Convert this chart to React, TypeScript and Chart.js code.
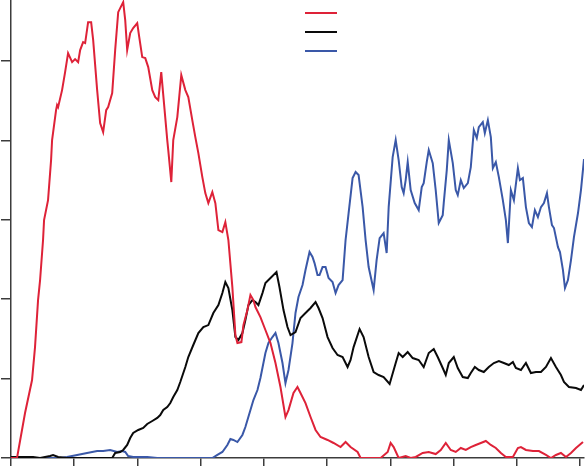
import React, { useEffect, useRef } from "react";
import { Chart, registerables } from "chart.js";

Chart.register(...registerables);

const seriesNames = ["", "", ""];

const redX = [0, 0.95, 2.22, 3.33, 3.8, 4.28, 4.6, 5.07, 5.23, 5.86, 6.34, 6.5, 7.13, 7.29, 7.45, 8.08, 8.56, 9.03, 9.67, 10.14, 10.62, 10.94, 11.41, 11.73, 12.2, 12.68, 13.0, 13.63, 14.1, 14.58, 15.06, 15.37, 16.01, 16.48, 16.96, 17.75, 18.07, 18.38, 18.86, 19.33, 19.97, 20.29, 20.76, 21.24, 21.71, 22.35, 22.82, 23.3, 23.77, 24.09, 24.72, 24.88, 25.36, 25.67, 26.31, 26.94, 27.58, 28.05, 28.68, 29.16, 29.64, 30.27, 30.74, 31.22, 31.85, 32.33, 32.81, 33.44, 33.91, 34.39, 35.02, 35.5, 35.82, 36.45, 36.77, 37.4, 37.88, 38.35, 38.67, 39.46, 40.25, 41.05, 41.84, 42.63, 43.42, 43.9, 44.69, 45.32, 45.8, 46.59, 47.39, 48.18, 48.97, 50.08, 51.03, 52.14, 52.93, 53.72, 54.83, 55.31, 58.48, 59.59, 60.06, 60.54, 61.33, 62.44, 63.23, 64.03, 65.13, 66.09, 67.19, 67.99, 68.78, 69.57, 70.36, 71.16, 71.95, 72.74, 73.53, 74.33, 75.12, 75.91, 76.7, 77.5, 78.29, 79.4, 80.19, 80.67, 81.46, 82.57, 83.52, 84.63, 85.42, 86.21, 87.0, 87.8, 88.59, 89.38, 90.49];
const redY = [0, 0, 5.67, 9.82, 13.97, 19.89, 22.41, 27.45, 29.96, 32.48, 37.52, 40.04, 43.81, 44.44, 44.19, 46.33, 48.6, 50.99, 49.86, 50.23, 49.86, 51.37, 52.37, 52.25, 54.89, 54.89, 52.63, 46.33, 42.18, 41.04, 43.81, 44.19, 45.95, 51.37, 56.15, 57.41, 55.14, 51.37, 53.51, 54.14, 54.77, 53.0, 50.49, 50.36, 49.23, 46.33, 45.45, 45.07, 48.6, 45.7, 40.04, 38.78, 34.75, 40.04, 42.93, 48.22, 46.33, 45.45, 42.55, 40.41, 38.4, 35.38, 33.36, 32.1, 33.49, 32.1, 28.71, 28.45, 29.71, 27.45, 21.53, 15.49, 14.48, 14.6, 16.74, 18.63, 20.52, 19.89, 19.01, 17.75, 16.12, 14.48, 11.96, 8.94, 5.16, 6.04, 8.18, 8.94, 8.18, 6.92, 5.16, 3.53, 2.64, 2.27, 1.89, 1.38, 2.01, 1.38, 0.76, 0, 0, 0.76, 1.89, 1.38, 0, 0.25, 0, 0.13, 0.63, 0.76, 0.5, 1.01, 1.89, 1.01, 0.76, 1.26, 1.01, 1.38, 1.64, 1.89, 2.14, 1.64, 1.26, 0.63, 0.13, 0.13, 1.26, 1.38, 1.01, 0.88, 0.88, 0.38, 0, 0.38, 0.63, 0.13, 0.63, 1.26, 2.01];

const blackX = [0, 3.49, 4.6, 6.18, 6.66, 7.45, 8.87, 16.01, 16.48, 17.27, 17.75, 18.38, 18.86, 19.33, 20.13, 20.92, 21.55, 22.35, 23.14, 23.61, 24.09, 24.72, 25.2, 25.67, 26.31, 26.78, 27.58, 28.05, 28.84, 29.64, 30.43, 31.22, 32.01, 32.81, 33.44, 33.91, 34.39, 35.02, 35.5, 35.97, 36.61, 37.08, 37.56, 38.19, 38.67, 39.14, 39.78, 40.25, 41.05, 42.0, 42.47, 43.11, 43.74, 44.22, 45.01, 45.8, 46.59, 47.39, 48.18, 48.65, 49.29, 50.08, 50.87, 51.66, 52.46, 53.25, 53.72, 54.2, 55.15, 55.78, 56.58, 57.37, 58.16, 58.95, 59.9, 60.86, 61.33, 61.97, 62.76, 63.55, 64.5, 65.29, 66.09, 66.88, 67.51, 68.3, 68.78, 69.26, 70.05, 70.68, 71.47, 72.27, 72.74, 73.38, 74.01, 74.8, 75.59, 76.39, 77.18, 77.97, 78.76, 79.4, 79.87, 80.67, 81.46, 82.25, 83.04, 83.84, 84.63, 85.42, 86.21, 87.0, 87.48, 88.27, 89.38, 90.17, 90.65];
const blackY = [0.13, 0.13, 0, 0.25, 0.38, 0.13, 0, 0, 0.63, 0.76, 1.01, 1.64, 2.52, 3.15, 3.53, 3.78, 4.28, 4.66, 5.04, 5.41, 6.04, 6.42, 6.92, 7.68, 8.56, 9.57, 11.46, 12.72, 14.23, 15.74, 16.49, 16.74, 18.26, 19.26, 20.77, 22.16, 21.4, 18.63, 15.23, 14.86, 15.74, 17.37, 19.26, 19.89, 19.64, 19.26, 20.77, 22.03, 22.66, 23.42, 21.53, 18.63, 16.49, 15.49, 15.86, 17.63, 18.26, 18.89, 19.64, 18.89, 17.63, 15.23, 13.85, 12.97, 12.72, 11.46, 12.34, 13.97, 16.24, 15.23, 12.72, 10.83, 10.45, 10.2, 9.32, 11.96, 13.22, 12.72, 13.35, 12.59, 12.34, 11.46, 13.22, 13.72, 12.72, 11.33, 10.45, 11.96, 12.72, 11.33, 10.2, 10.07, 10.7, 11.46, 11.08, 10.83, 11.46, 11.96, 12.21, 11.96, 11.71, 12.09, 11.33, 11.08, 11.96, 10.7, 10.83, 10.83, 11.46, 12.59, 11.46, 10.45, 9.57, 8.94, 8.81, 8.56, 9.19];

const blueX = [0, 7.77, 8.87, 10.46, 12.04, 13.63, 14.58, 15.69, 16.8, 17.59, 18.07, 18.54, 19.33, 20.44, 21.55, 23.14, 31.85, 32.65, 33.44, 34.23, 34.71, 35.18, 35.82, 36.61, 37.08, 37.88, 38.35, 38.99, 39.46, 40.25, 40.73, 41.36, 41.84, 42.31, 42.95, 43.42, 43.9, 44.53, 45.01, 45.48, 46.12, 46.59, 47.23, 47.7, 48.02, 48.49, 48.81, 49.29, 49.76, 50.24, 50.87, 51.35, 51.82, 52.46, 52.93, 53.41, 54.04, 54.52, 54.99, 55.63, 56.1, 56.58, 57.37, 57.84, 58.32, 58.95, 59.43, 59.75, 60.38, 60.86, 61.33, 61.81, 62.12, 62.44, 62.76, 63.23, 63.87, 64.5, 64.98, 65.29, 65.77, 66.09, 66.72, 67.19, 67.67, 68.3, 68.46, 68.94, 69.26, 69.89, 70.36, 70.68, 71.16, 71.63, 72.27, 72.74, 73.22, 73.69, 74.01, 74.64, 74.96, 75.44, 75.91, 76.23, 76.7, 77.18, 77.81, 78.29, 78.61, 79.08, 79.56, 80.19, 80.51, 80.98, 81.46, 81.93, 82.41, 82.88, 83.36, 83.84, 84.31, 84.79, 85.1, 85.58, 85.9, 86.53, 86.85, 87.32, 87.64, 88.11, 88.59, 89.06, 89.7, 90.17, 90.65];
const blueY = [0, 0, 0.13, 0.38, 0.63, 0.88, 0.88, 1.01, 0.76, 0.88, 0.76, 0.25, 0.13, 0.13, 0.13, 0, 0, 0.38, 0.76, 1.64, 2.39, 2.27, 2.01, 2.9, 3.9, 6.04, 7.3, 8.56, 10.07, 13.22, 14.48, 15.23, 15.74, 14.48, 11.96, 9.44, 11.08, 14.48, 18.26, 20.27, 21.78, 23.67, 25.94, 25.31, 24.55, 23.04, 23.04, 24.05, 24.05, 22.66, 22.16, 20.77, 21.78, 22.41, 27.45, 30.85, 35.25, 36.01, 35.63, 31.6, 27.45, 24.05, 21.15, 24.93, 27.7, 28.33, 25.81, 31.6, 37.9, 40.04, 37.52, 34.12, 33.36, 35.0, 37.27, 33.74, 32.1, 31.22, 34.12, 34.62, 37.27, 38.78, 37.14, 33.74, 29.59, 30.59, 32.1, 36.26, 40.04, 37.14, 33.74, 33.11, 35.0, 33.99, 34.62, 36.64, 41.3, 40.29, 41.67, 42.3, 40.92, 42.55, 40.41, 36.51, 37.27, 35.38, 32.48, 29.96, 27.07, 33.74, 32.48, 36.51, 35.0, 35.25, 31.6, 29.59, 29.08, 31.22, 30.34, 31.6, 32.1, 33.36, 31.6, 29.33, 28.96, 26.56, 25.94, 23.67, 21.4, 22.41, 24.93, 27.82, 30.85, 33.74, 37.64];

const X_MAX = 90.65;
const Y_MAX = 57.68;
const TICK_STEP = 10;

const RED = "rgb(222, 34, 56)";
const BLACK = "rgb(10, 10, 10)";
const BLUE = "rgb(58, 88, 168)";
const AXIS = "rgb(60, 60, 60)";

function pts(xs: number[], ys: number[]) {
  return xs.map((x, i) => ({ x, y: ys[i] }));
}

const legendLines = {
  id: "legendLines",
  afterDraw(chart: any) {
    const ctx = chart.ctx;
    const dsets = chart.data.datasets;
    ctx.save();
    ctx.lineWidth = 2;
    dsets.forEach((d: any, i: number) => {
      const y = 13 + i * 19;
      ctx.strokeStyle = d.borderColor;
      ctx.beginPath();
      ctx.moveTo(305, y);
      ctx.lineTo(337, y);
      ctx.stroke();
    });
    ctx.restore();
  },
};

export default function App() {
  const ref = useRef<HTMLCanvasElement | null>(null);
  useEffect(() => {
    document.body.style.margin = "0";
    if (!ref.current) return;
    const chart = new Chart(ref.current, {
      type: "line",
      data: {
        datasets: [
          { label: seriesNames[0], data: pts(redX, redY), borderColor: RED, borderWidth: 2, pointRadius: 0, tension: 0 },
          { label: seriesNames[1], data: pts(blackX, blackY), borderColor: BLACK, borderWidth: 2, pointRadius: 0, tension: 0 },
          { label: seriesNames[2], data: pts(blueX, blueY), borderColor: BLUE, borderWidth: 2, pointRadius: 0, tension: 0 },
        ],
      },
      options: {
        animation: false,
        responsive: false,
        maintainAspectRatio: false,
        layout: { padding: { left: 1, right: 1, top: 0, bottom: 5 } },
        plugins: { legend: { display: false }, tooltip: { enabled: false } },
        scales: {
          x: {
            type: "linear",
            min: 0,
            max: X_MAX,
            ticks: { display: false, stepSize: TICK_STEP, includeBounds: false },
            grid: { drawOnChartArea: false, drawTicks: true, tickLength: 8, color: AXIS, lineWidth: 1.5 },
            border: { display: true, color: AXIS, width: 1.5 },
          },
          y: {
            type: "linear",
            min: 0,
            max: Y_MAX,
            ticks: { display: false, stepSize: TICK_STEP, includeBounds: false },
            grid: { drawOnChartArea: false, drawTicks: true, tickLength: 10, color: AXIS, lineWidth: 1.5 },
            border: { display: true, color: AXIS, width: 1.5 },
          },
        },
      },
      plugins: [legendLines],
    });
    return () => chart.destroy();
  }, []);
  return <canvas ref={ref} width={585} height={471} style={{ display: "block" }} />;
}
